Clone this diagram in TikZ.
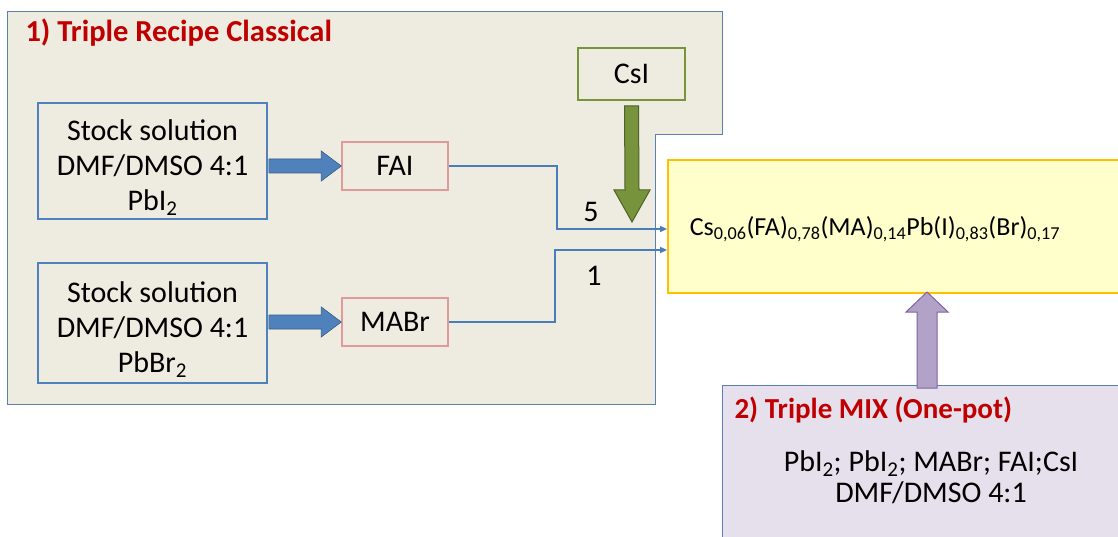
\documentclass[tikz,border=0pt]{standalone}
\usepackage{fontspec}
\setmainfont{Carlito}
\usetikzlibrary{calc,arrows.meta}
\definecolor{panelfill}{HTML}{EEEBE0}
\definecolor{panelline}{HTML}{5B80AE}
\definecolor{officeblue}{HTML}{4F81BD}
\definecolor{bluedark}{HTML}{385D8A}
\definecolor{pinkline}{HTML}{E09A9A}
\definecolor{greenline}{HTML}{77933C}
\definecolor{greendark}{HTML}{4F6228}
\definecolor{yellowfill}{HTML}{FFFFCC}
\definecolor{orangeline}{HTML}{FFC000}
\definecolor{purplefill}{HTML}{E5E0EC}
\definecolor{purplearrow}{HTML}{B3A2C7}
\definecolor{purpledark}{HTML}{8064A2}
\definecolor{titlered}{HTML}{C00000}
\definecolor{connblue}{HTML}{4A7EBB}
\tikzset{
  txt/.style={font=\fontsize{30}{35}\selectfont, text=black},
  stockbox/.style={draw=officeblue, line width=1.8pt, minimum width=229pt, minimum height=116pt, align=center, txt},
  saltbox/.style={draw=pinkline, line width=1.5pt, minimum width=106pt, minimum height=48pt, txt},
  csbox/.style={draw=greenline, line width=1.8pt, minimum width=107pt, minimum height=52pt, txt},
  ttl/.style={font=\fontsize{29}{34}\selectfont\bfseries, text=titlered},
  conn/.style={draw=connblue, line width=1.4pt, -{Triangle[length=7pt,width=6pt]}},
  bluearrow/.style={fill=officeblue, draw=bluedark, line width=0.6pt},
  greenarrow/.style={fill=greenline, draw=greendark, line width=1pt},
  purplearr/.style={fill=purplearrow, draw=purpledark, line width=1pt},
}
\newcommand{\lowstrut}{\rule{0pt}{34pt}}
\begin{document}
\begin{tikzpicture}[x=1pt,y=-1pt]
\useasboundingbox (0,0) rectangle (1118,537);
% panel 1
\draw[panelline, fill=panelfill, line width=1pt] (7,12) -- (722,12) -- (722,135) -- (655,135) -- (655,404) -- (7,404) -- cycle;
\node[ttl, font=\fontsize{30.5}{35}\selectfont\bfseries, anchor=west] (t1) at (22,33) {1) Triple Recipe Classical};
% boxes
\node[stockbox] (s1) at (152.5,161) {\lowstrut Stock solution\\DMF/DMSO 4:1\\PbI\textsubscript{2}};
\node[stockbox, minimum height=120pt] (s2) at (152.5,323) {\lowstrut Stock solution\\DMF/DMSO 4:1\\PbBr\textsubscript{2}};
\node[saltbox] (fai) at (395,166) {FAI};
\node[saltbox] (mabr) at (395,322) {MABr};
\node[csbox] (csi) at (631.5,74) {CsI};
% yellow result box
\node[draw=orangeline, fill=yellowfill, line width=1.8pt, minimum width=500pt, minimum height=133pt] (yb) at (918,226.5) {};
\node[txt, font=\fontsize{26}{31}\selectfont, anchor=center] (formula) at (875,229) {Cs\textsubscript{0,06}(FA)\textsubscript{0,78}(MA)\textsubscript{0,14}Pb(I)\textsubscript{0,83}(Br)\textsubscript{0,17}};
% purple box
\node[draw=panelline, fill=purplefill, line width=1pt, minimum width=500pt, minimum height=200pt, anchor=north west] (pb) at (722,385) {};
\node[ttl, anchor=west] (t2) at (731,410) {2) Triple MIX (One-pot)};
\node[txt, font=\fontsize{30}{31}\selectfont, align=center] (mix) at (931,477) {PbI\textsubscript{2}; PbI\textsubscript{2}; MABr; FAI;CsI\\DMF/DMSO 4:1};
% blue block arrows
\foreach \a/\b in {s1/fai, s2/mabr}{
  \draw[bluearrow] ($(\a.east |- \b.west)+(1,-7)$) -- ($(\b.west)+(-20,-7)$) -- ($(\b.west)+(-20,-15)$) -- (\b.west) -- ($(\b.west)+(-20,15)$) -- ($(\b.west)+(-20,7)$) -- ($(\a.east |- \b.west)+(1,7)$) -- cycle;
}
% green down arrow
\coordinate (gtip) at (632,222);
\draw[greenarrow] ($(csi.south)+(-7,5)$) -- ($(gtip)+(-7,-32)$) -- ($(gtip)+(-18,-32)$) -- (gtip) -- ($(gtip)+(18,-32)$) -- ($(gtip)+(7,-32)$) -- ($(csi.south)+(7,5)$) -- cycle;
% purple up arrow
\coordinate (ptip) at (927,292);
\draw[purplearr] ($(pb.north west)+(195,3)$) -- ($(ptip)+(-10,20)$) -- ($(ptip)+(-21,20)$) -- (ptip) -- ($(ptip)+(21,20)$) -- ($(ptip)+(10,20)$) -- ($(pb.north west)+(215,3)$) -- cycle;
% connectors
\coordinate (in5) at (yb.west |- 0,229);
\coordinate (in1) at (yb.west |- 0,250);
\draw[conn] (fai.east) -- (557,166) -- (557,229) -- (in5);
\draw[conn] (mabr.east) -- (555,322) -- (555,250) -- (in1);
\node[txt] (l5) at (591,212) {5};
\node[txt] (l1) at (594,276) {1};
\end{tikzpicture}
\end{document}
